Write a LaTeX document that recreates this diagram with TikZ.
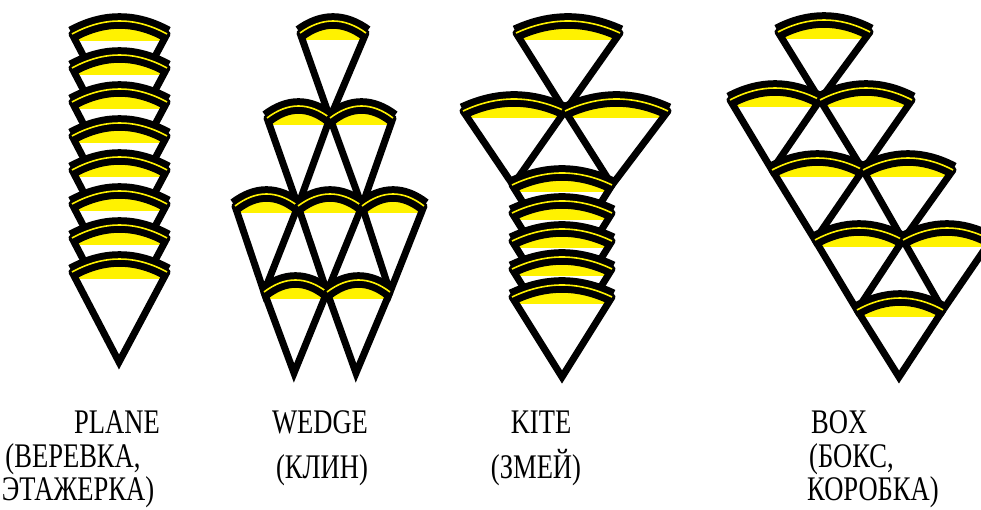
\documentclass[tikz,border=0pt]{standalone}
\usepackage{fontspec}
\setmainfont{Liberation Serif}
\newfontfamily\lblfont[FakeStretch=0.77]{Liberation Serif}
\tikzset{
  conefill/.style={fill=white},
  coneyellow/.style={fill=yellow},
  coneside/.style={draw=black, line width=7pt, line join=miter, line cap=round},
  coneband/.style={draw=black, line width=7pt, double=yellow, double distance=1.6pt, line cap=butt},
  label/.style={font=\lblfont\fontsize{34.5}{34.5}\selectfont, inner sep=0pt, anchor=base},
  labelL/.style={label, anchor=base west},
}
% #1 xl, #2 xr, #3 y of corners, #4 apex x, #5 apex y, #6 sagitta
\newcommand\cone[6]{%
  \path[conefill] (#4,#5) -- (#1,#3) .. controls ({#1+(#2-#1)/3},{#3-4*#6/3}) and ({#2-(#2-#1)/3},{#3-4*#6/3}) .. (#2,#3) -- cycle;
  \begin{scope}
    \clip (#4,#5) -- (#1,#3) .. controls ({#1+(#2-#1)/3},{#3-4*#6/3}) and ({#2-(#2-#1)/3},{#3-4*#6/3}) .. (#2,#3) -- cycle;
    \path[coneyellow] ({#1-3},{#3-2*#6-3}) rectangle ({#2+3},{#3+7});
  \end{scope}
  \draw[coneside] (#1,#3) -- (#4,#5) -- (#2,#3);
  \draw[coneband] (#1,#3) .. controls ({#1+(#2-#1)/3},{#3-4*#6/3}) and ({#2-(#2-#1)/3},{#3-4*#6/3}) .. (#2,#3);
}
\begin{document}
\begin{tikzpicture}[x=1pt,y=-1pt]
\path[use as bounding box] (0,0) rectangle (981,510);
\clip (0,0) rectangle (981,510);
% PLANE
\foreach \k in {0,...,7}{
  \pgfmathsetmacro\ye{34+34*\k}
  \pgfmathsetmacro\ya{\ye+90}
  \cone{72}{167}{\ye}{119}{\ya}{13}
}
% WEDGE
\cone{300}{366}{33}{330}{118}{12}
\cone{267}{330}{118}{298}{206}{12}
\cone{330}{393}{118}{362}{206}{12}
\cone{235}{298}{206}{264}{292}{12}
\cone{298}{362}{206}{327}{292}{12}
\cone{362}{424}{206}{390}{292}{12}
\cone{264}{327}{292}{294}{373}{12}
\cone{327}{390}{292}{356}{373}{12}
% KITE
\cone{516}{620}{33}{565}{111}{12}
\cone{463}{565}{111}{513}{185}{12}
\cone{565}{668}{111}{612}{185}{12}
\foreach \k in {0,...,4}{
  \pgfmathsetmacro\ye{185+28*\k}
  \pgfmathsetmacro\ya{\ye+80}
  \cone{512}{612}{\ye}{562}{\ya}{12}
}
% BOX
\cone{778}{870}{32}{820}{100}{12}
\cone{730}{820}{100}{772}{170}{12}
\cone{820}{912}{100}{863}{170}{12}
\cone{772}{863}{170}{815}{240}{12}
\cone{863}{953}{170}{903}{240}{12}
\cone{815}{903}{240}{857}{310}{12}
\cone{903}{991}{240}{943}{310}{12}
\cone{857}{943}{310}{899}{377}{12}
% labels
\node[label] (p1) at (117,433) {PLANE};
\node[label] (p2) at (73,467) {(ВЕРЕВКА,};
\node[label] (p3) at (78,500) {ЭТАЖЕРКА)};
\node[label] (w1) at (320,433) {WEDGE};
\node[label] (w2) at (322,478) {(КЛИН)};
\node[label] (k1) at (541,433) {KITE};
\node[label] (k2) at (536,478) {(ЗМЕЙ)};
\node[labelL] (b1) at (811,433) {BOX};
\node[labelL] (b2) at (809,467) {(БОКС,};
\node[labelL] (b3) at (807,500) {КОРОБКА)};
\end{tikzpicture}
\end{document}
